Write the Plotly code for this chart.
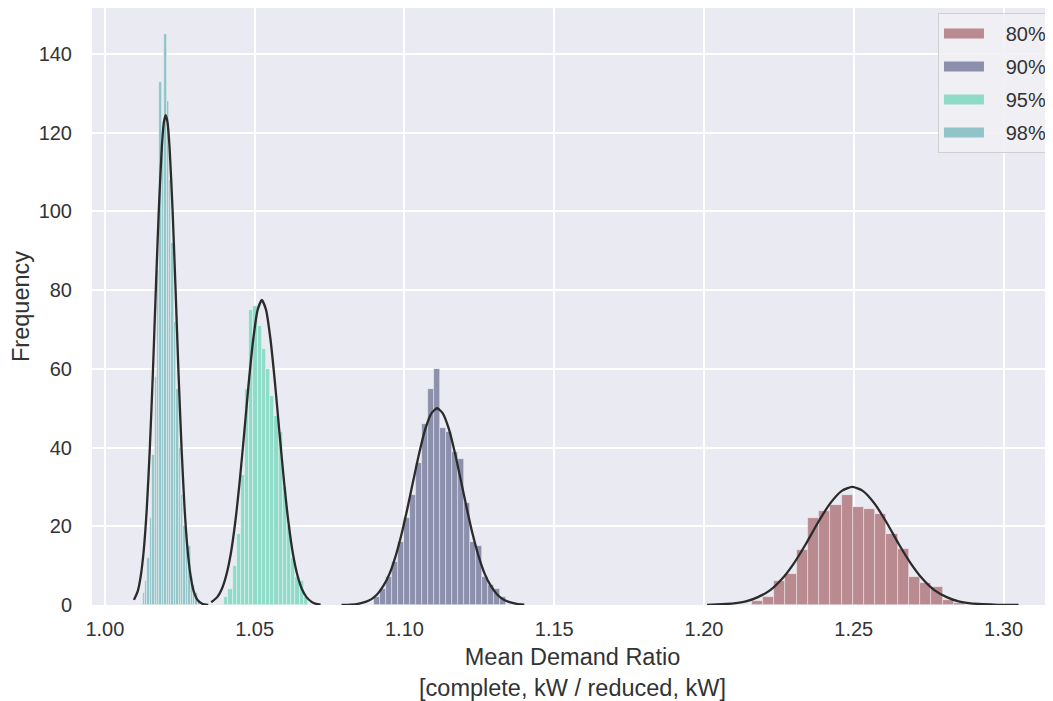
import plotly.graph_objects as go

# ---------------- data ----------------
labels = ["80%", "90%", "95%", "98%"]

# histogram bins: first left edge, bin width, and bar heights
bins80_start, bins80_width = 1.2159, 0.00375
bars80 = [1, 2, 6, 8, 14, 22, 24, 25.5, 28, 25, 24.3, 23, 18, 14.3, 7.2, 5.7, 4.6, 1.3, 0.4]

bins90_start, bins90_width = 1.0900, 0.0020
bars90 = [2, 4, 7, 11, 16, 22, 28, 36, 46, 55, 60, 45, 44, 39, 37, 26, 16, 15, 7, 5, 4, 2]

bins95_start, bins95_width = 1.0398, 0.0014
bars95 = [2, 4, 10, 18, 33, 55, 75, 76, 71, 65, 60, 53, 48, 44, 30, 20, 12, 7, 6, 2]

bins98_start, bins98_width = 1.0126, 0.0008
bars98 = [3, 6, 12, 22, 38, 58, 85, 133, 118, 145, 128, 108, 92, 72, 55, 40, 28, 20,
          18, 15, 7, 5, 3, 1]

# fitted curves, points
curve98_x = [1.0097, 1.0110, 1.0120, 1.0130, 1.0140, 1.0150, 1.0160, 1.0170, 1.0180, 1.0190,
             1.0197, 1.0203, 1.0209, 1.0216, 1.0226, 1.0236, 1.0246, 1.0256, 1.0266, 1.0276,
             1.0286, 1.0296, 1.0310, 1.0325, 1.0345]
curve98_y = [1.3, 3.6, 7.5, 14.1, 24.6, 39.8, 58.5, 80.1, 100.3, 116.2,
             122.7, 124.5, 122.7, 116.2, 100.3, 80.1, 58.5, 39.8, 24.6, 14.1,
             7.5, 3.6, 1.2, 0.3, 0.0]

curve95_x = [1.0355, 1.0375, 1.0390, 1.0405, 1.0420, 1.0435, 1.0450, 1.0465, 1.0480, 1.0495,
             1.0510, 1.0524, 1.0538, 1.0553, 1.0568, 1.0583, 1.0598, 1.0613, 1.0628, 1.0643,
             1.0658, 1.0673, 1.0690, 1.0705, 1.0720]
curve95_y = [0.7, 2.0, 4.0, 7.5, 12.9, 20.9, 31.4, 43.6, 56.3, 67.4,
             75.0, 77.5, 75.0, 67.4, 56.3, 43.6, 31.4, 20.9, 12.9, 7.5,
             4.0, 2.0, 0.8, 0.3, 0.1]

curve90_x = [1.0790, 1.0820, 1.0845, 1.0870, 1.0890, 1.0910, 1.0930, 1.0950, 1.0970, 1.0990,
             1.1010, 1.1030, 1.1050, 1.1070, 1.1090, 1.1109, 1.1128, 1.1148, 1.1168, 1.1188,
             1.1208, 1.1228, 1.1248, 1.1268, 1.1288, 1.1308, 1.1328, 1.1348, 1.1375, 1.1400]
curve90_y = [0.03, 0.1, 0.3, 0.8, 1.5, 2.8, 4.9, 7.9, 12.3, 17.9,
             24.6, 31.8, 38.8, 44.8, 48.7, 50.0, 48.7, 44.8, 38.8, 31.8,
             24.6, 17.9, 12.3, 7.9, 4.9, 2.8, 1.5, 0.8, 0.3, 0.1]

curve80_x = [1.2010, 1.2060, 1.2100, 1.2140, 1.2180, 1.2220, 1.2260, 1.2300, 1.2340, 1.2380,
             1.2420, 1.2460, 1.2495, 1.2530, 1.2570, 1.2610, 1.2650, 1.2690, 1.2730, 1.2770,
             1.2810, 1.2850, 1.2890, 1.2930, 1.2980, 1.3050]
curve80_y = [0.05, 0.2, 0.4, 0.9, 2.0, 3.7, 6.6, 10.6, 15.5, 20.9,
             25.7, 29.0, 30.0, 29.0, 25.7, 20.9, 15.5, 10.6, 6.6, 3.7,
             2.0, 0.9, 0.4, 0.2, 0.05, 0.0]

x_ticks = [1.00, 1.05, 1.10, 1.15, 1.20, 1.25, 1.30]
y_ticks = [0, 20, 40, 60, 80, 100, 120, 140]

# ---------------- styling ----------------
colors = {"80%": "#b98a8f", "90%": "#8d90ad", "95%": "#8edbc8", "98%": "#90c4c8"}
FONT = "Liberation Sans, Arial, sans-serif"
TXT = "#333333"
TICK = 20
TITLE = 23.5
NBSP = "\u00a0"

hists = [
    ("80%", bins80_start, bins80_width, bars80),
    ("90%", bins90_start, bins90_width, bars90),
    ("95%", bins95_start, bins95_width, bars95),
    ("98%", bins98_start, bins98_width, bars98),
]
curves = [
    (curve80_x, curve80_y),
    (curve90_x, curve90_y),
    (curve95_x, curve95_y),
    (curve98_x, curve98_y),
]

fig = go.Figure()

for name, start, width, heights in hists:
    centers = [start + width * (i + 0.5) for i in range(len(heights))]
    fig.add_trace(go.Bar(
        x=centers, y=heights, width=width, name=name,
        legendgroup=name, showlegend=False,
        marker=dict(color=colors[name], line=dict(color="rgba(255,255,255,0.55)", width=0.7)),
        hoverinfo="x+y",
    ))

for cx, cy in curves:
    fig.add_trace(go.Scatter(
        x=cx, y=cy, mode="lines",
        line=dict(color="#2b2b2b", width=2.3, shape="spline", smoothing=0.6),
        showlegend=False, hoverinfo="skip",
    ))

# legend entries drawn as wide colour patches (like the reference's rectangles)
for name in labels:
    fig.add_trace(go.Scatter(
        x=[None], y=[None], mode="lines", name=NBSP * 3 + name, legendgroup=name,
        line=dict(color=colors[name], width=13),
    ))

# the page body adds an 8 px offset, so the figure is sized to fill the rest of the window
fig.update_layout(
    width=1045, height=693,
    margin=dict(l=84, r=0, t=0, b=96),
    paper_bgcolor="white",
    plot_bgcolor="#EAEAF2",
    barmode="overlay",
    bargap=0,
    font=dict(family=FONT, color=TXT, size=TICK),
    showlegend=True,
    legend=dict(
        x=0.8803, xanchor="left", y=0.9916, yanchor="top",
        bgcolor="rgba(240,240,245,0.85)", bordercolor="#cfcfd4", borderwidth=1,
        font=dict(size=20, color=TXT, family=FONT),
        itemwidth=40, tracegroupgap=4,
    ),
    xaxis=dict(
        range=[0.9957, 1.3165], tickvals=x_ticks, tickformat=".2f",
        showgrid=True, gridcolor="white", gridwidth=1.5, zeroline=False,
        showline=False, ticks="", ticklabelstandoff=10,
        tickfont=dict(size=TICK, color=TXT),
        title=dict(text="Mean Demand Ratio<br>[complete, kW / reduced, kW]",
                   font=dict(size=TITLE, color=TXT), standoff=11),
        automargin=False,
    ),
    yaxis=dict(
        range=[0, 151.7], tickvals=y_ticks,
        showgrid=True, gridcolor="white", gridwidth=1.5, zeroline=False,
        showline=False, ticks="", ticklabelstandoff=19,
        tickfont=dict(size=TICK, color=TXT),
        title=dict(text="Frequency", font=dict(size=TITLE, color=TXT), standoff=4),
        automargin=False,
    ),
)

fig.write_html("out.html")
